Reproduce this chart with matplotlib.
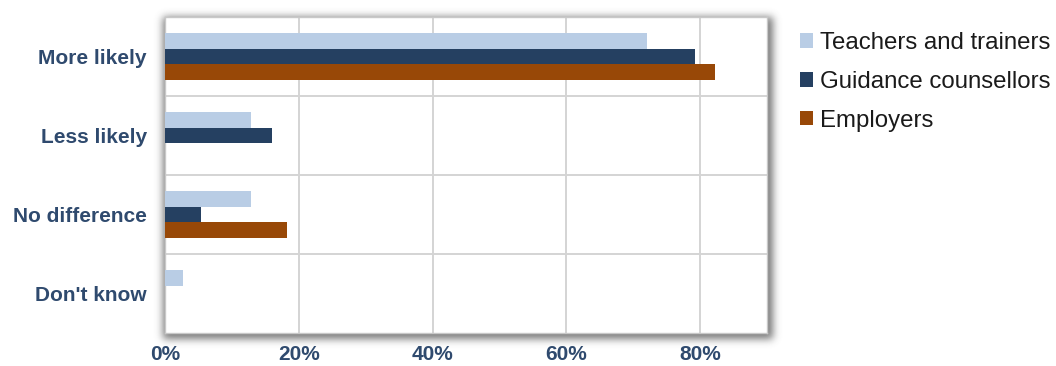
import math

import matplotlib

matplotlib.use("Agg")
import matplotlib.pyplot as plt
import numpy as np
from matplotlib.patches import Patch
from matplotlib.ticker import FixedLocator, FuncFormatter

categories = ["More likely", "Less likely", "No difference", "Don't know"]
series_names = ["Teachers and trainers", "Guidance counsellors", "Employers"]
teachers = [72.0, 12.9, 12.9, 2.7]
counsellors = [79.3, 16.0, 5.4, 0.0]
employers = [82.3, 0.0, 18.3, 0.0]
x_ticks = [0, 20, 40, 60, 80]

colors = ["#B9CDE5", "#254061", "#984807"]
label_color = "#2F4A6E"
W, H, DPI = 1056, 366, 100

plt.rcParams["font.family"] = ["Liberation Sans", "DejaVu Sans"]

fig = plt.figure(figsize=(W / DPI, H / DPI), dpi=DPI)
fig.patch.set_facecolor("white")

# plot box in pixel coordinates (from top-left)
left, right, top, bottom = 165, 767, 17, 333
ax = fig.add_axes([left / W, 1 - bottom / H, (right - left) / W, (bottom - top) / H])


def soft_shadow(x0, x1, y0, y1, sigma, strength):
    erf = np.vectorize(math.erf)
    xs = np.arange(W) + 0.5
    ys = np.arange(H) + 0.5
    s = sigma * math.sqrt(2)
    fx = 0.5 * (erf((xs - x0) / s) - erf((xs - x1) / s))
    fy = 0.5 * (erf((ys - y0) / s) - erf((ys - y1) / s))
    img = np.ones((H, W, 4))
    img[..., :3] = 0.3
    img[..., 3] = np.outer(fy, fx) * strength
    return img


shadow = soft_shadow(left - 2, right + 6, top, bottom + 6, 4.0, 0.75)
fig.figimage(shadow, xo=0, yo=0, origin="upper", zorder=0)

y = np.arange(len(categories))
bar_h = 0.2
for i, (vals, name) in enumerate(zip([teachers, counsellors, employers], series_names)):
    ax.barh(y + (i - 1) * bar_h, vals, height=bar_h, color=colors[i],
            linewidth=0, zorder=3, label=name)

ax.set_xlim(0, 90)
ax.set_ylim(len(categories) - 0.5, -0.5)
ax.set_facecolor("white")
ax.set_zorder(2)

ax.xaxis.set_major_locator(FixedLocator(x_ticks))
ax.xaxis.set_major_formatter(FuncFormatter(lambda v, _: f"{v:.0f}%"))
ax.set_yticks(y)
ax.set_yticklabels(categories)
ax.set_yticks(np.arange(len(categories) - 1) + 0.5, minor=True)

ax.grid(axis="x", which="major", color="#D4D4D4", linewidth=1.4, zorder=1)
ax.grid(axis="y", which="minor", color="#D4D4D4", linewidth=1.4, zorder=1)
ax.set_axisbelow(True)

ax.tick_params(axis="both", which="both", length=0)
ax.tick_params(axis="y", pad=13, labelsize=15, labelcolor=label_color)
ax.tick_params(axis="x", pad=9, labelsize=15, labelcolor=label_color)
for lbl in ax.get_xticklabels() + ax.get_yticklabels():
    lbl.set_fontweight("bold")

for side in ["top", "bottom", "left", "right"]:
    ax.spines[side].set_color("#C8C8C8")
    ax.spines[side].set_linewidth(1.0)

handles = [Patch(facecolor=c, edgecolor="none") for c in colors]
fig.legend(handles, series_names, loc="upper left", bbox_to_anchor=(800 / W, 1 - 32 / H),
           frameon=False, fontsize=17.3, handlelength=0.55, handleheight=0.55,
           handletextpad=0.3, labelspacing=0.7, labelcolor="#1A1A1A",
           borderaxespad=0, borderpad=0)

fig.savefig("out.png", dpi=DPI, facecolor="white")
